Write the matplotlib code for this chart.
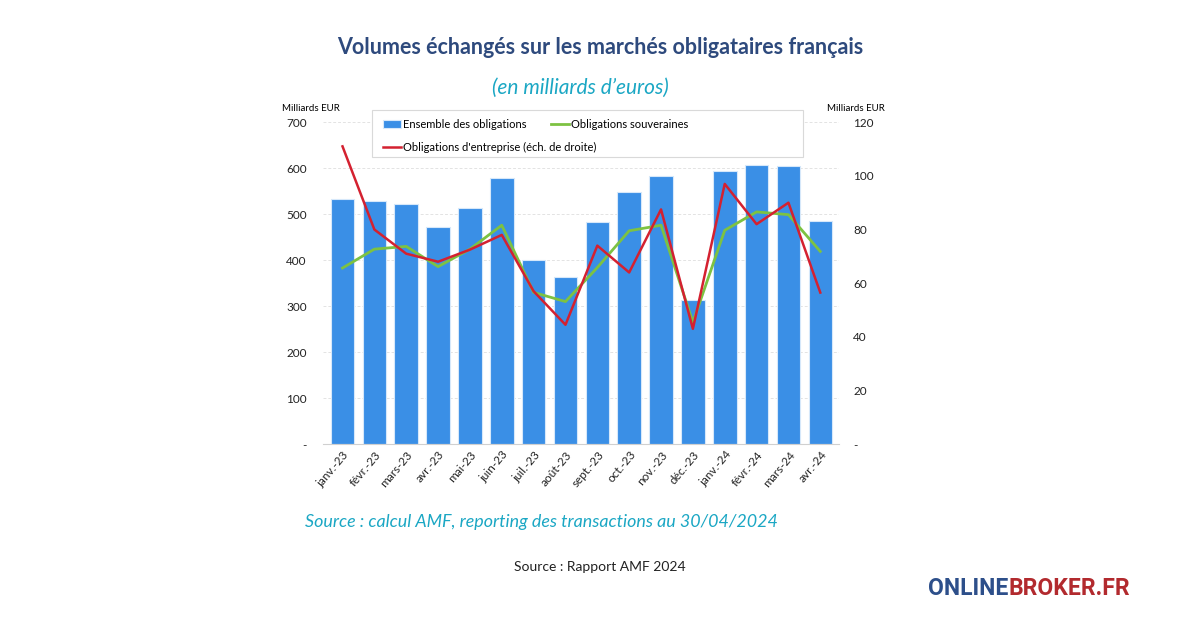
import numpy as np
import matplotlib.pyplot as plt
from matplotlib.patches import Rectangle

mois = ["janv.-23", "févr.-23", "mars-23", "avr.-23", "mai-23", "juin-23", "juil.-23", "août-23",
        "sept.-23", "oct.-23", "nov.-23", "déc.-23", "janv.-24", "févr.-24", "mars-24", "avr.-24"]
ensemble = [534, 529, 522, 473, 514, 578, 400, 363, 483, 548, 584, 313, 593, 607, 604, 485]
souveraines = [383, 424, 430, 386, 424, 476, 330, 310, 384, 464, 476, 265, 465, 505, 499, 419]
entreprise = [111, 80, 71, 68, 72.5, 78, 57, 44.5, 74, 64, 87.5, 43, 97, 82, 90, 56.5]

left_ticks = [0, 100, 200, 300, 400, 500, 600, 700]
right_ticks = [0, 20, 40, 60, 80, 100, 120]

plt.rcParams['font.family'] = ['Lato', 'DejaVu Sans']

fig = plt.figure(figsize=(12, 6.3), dpi=100)
ax = fig.add_axes([0.2695, 0.295, 0.43, 0.511])
ax2 = ax.twinx()

x = np.arange(len(mois))
bars = ax.bar(x, ensemble, width=0.74, color='#3A8FE6', edgecolor='#D6E8FA', linewidth=0.8,
              label="Ensemble des obligations", zorder=2)
l1, = ax.plot(x, souveraines, color='#7DC242', lw=2, label="Obligations souveraines", zorder=4)
l2, = ax2.plot(x, entreprise, color='#D42130', lw=1.8, label="Obligations d'entreprise (éch. de droite)", zorder=5)

ax.set_xlim(-0.6, len(mois) - 0.4)
ax.set_ylim(0, 700)
ax2.set_ylim(0, 120)
ax.set_yticks(left_ticks)
ax.set_yticklabels(["-"] + [str(v) for v in left_ticks[1:]])
ax2.set_yticks(right_ticks)
ax2.set_yticklabels(["-"] + [str(v) for v in right_ticks[1:]])
ax.grid(axis='y', color='#E3E3E3', ls=(0, (3, 2)), lw=0.7, zorder=0)
ax.set_axisbelow(True)

for a in (ax, ax2):
    for s in ('top', 'right', 'left'):
        a.spines[s].set_visible(False)
    a.tick_params(length=0, labelsize=8.5, colors='#222222')
ax2.spines['bottom'].set_visible(False)
ax.spines['bottom'].set_color('#D0D0D0')
ax.tick_params(axis='y', pad=12)
ax2.tick_params(axis='y', pad=10)

ax.set_xticks(x)
ax.set_xticklabels(mois, rotation=50, ha='right', rotation_mode='anchor', fontsize=8.5)

ax.text(-0.024, 1.035, "Milliards EUR", transform=ax.transAxes, fontsize=7, ha='center')
ax2.text(1.032, 1.035, "Milliards EUR", transform=ax.transAxes, fontsize=7, ha='center')

# légende façon Excel : cadre commun, 2 lignes
fig.add_artist(Rectangle((0.31, 0.751), 0.359, 0.0746, transform=fig.transFigure,
                         facecolor='white', edgecolor='#D9D9D9', lw=0.8, zorder=5))
leg1 = fig.legend(handles=[bars, l1], ncol=2, loc='upper left', bbox_to_anchor=(0.31, 0.829),
                  fontsize=8, frameon=False, handlelength=1.6, handletextpad=0.2,
                  columnspacing=2.2, borderpad=0.5)
leg2 = fig.legend(handles=[l2], loc='upper left', bbox_to_anchor=(0.31, 0.793),
                  fontsize=8, frameon=False, handlelength=1.6, handletextpad=0.2, borderpad=0.5)
leg1.set_zorder(6)
leg2.set_zorder(6)

fig.text(0.5, 0.925, "Volumes échangés sur les marchés obligataires français",
         ha='center', va='center', fontsize=15.5, fontweight='bold', color='#2E4A7D')
fig.text(0.484, 0.86, "(en milliards d\u2019euros)", ha='center', va='center',
         fontsize=15, style='italic', color='#1BA7C4')
fig.text(0.254, 0.171, "Source : calcul AMF, reporting des transactions au 30/04/2024",
         ha='left', va='center', fontsize=12.9, style='italic', color='#1BA7C4')
fig.text(0.5, 0.1, "Source : Rapport AMF 2024", ha='center', va='center', fontsize=10, color='#222222')

fig.text(0.84, 0.066, "ONLINE", ha='right', va='center', fontsize=16.5, fontweight='bold',
         color='#2D4F8A', family=['Roboto', 'DejaVu Sans'])
fig.text(0.84, 0.066, "BROKER.FR", ha='left', va='center', fontsize=16.5, fontweight='bold',
         color='#B22A2E', family=['Roboto', 'DejaVu Sans'])

fig.savefig("out.png", dpi=100)
